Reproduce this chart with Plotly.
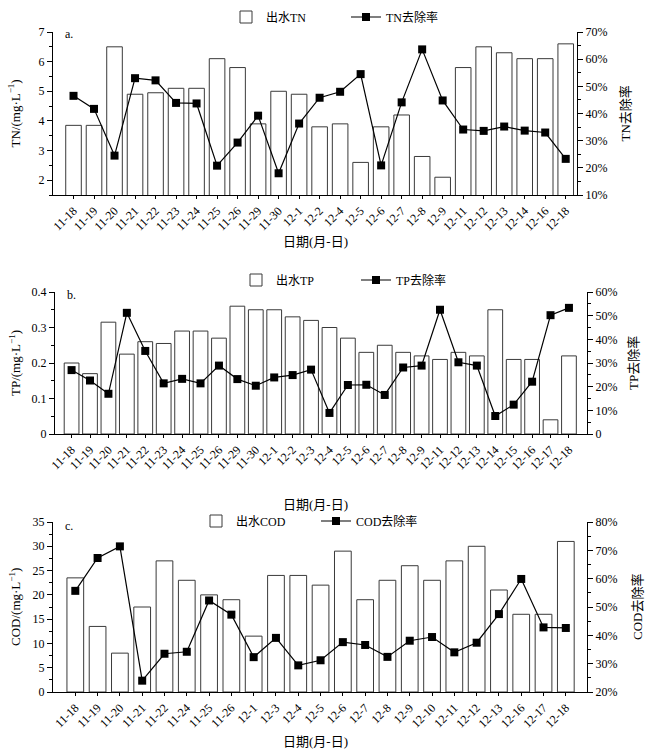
import plotly.graph_objects as go

# ---------------- data ----------------
tn_dates = ["11-18", "11-19", "11-20", "11-21", "11-22", "11-23", "11-24", "11-25", "11-26",
            "11-29", "11-30", "12-1", "12-2", "12-4", "12-5", "12-6", "12-7", "12-8", "12-9",
            "12-11", "12-12", "12-13", "12-14", "12-16", "12-18"]
tn_effluent = [3.85, 3.85, 6.5, 4.9, 4.95, 5.1, 5.1, 6.1, 5.8, 3.9, 5.0, 4.9, 3.8, 3.9, 2.6,
               3.8, 4.2, 2.8, 2.1, 5.8, 6.5, 6.3, 6.1, 6.1, 6.6]
tn_removal = [46.5, 41.7, 24.5, 53.0, 52.2, 43.9, 43.7, 20.8, 29.3, 39.2, 18.0, 36.3, 45.8,
              48.0, 54.5, 20.9, 44.1, 63.6, 44.8, 34.1, 33.6, 35.2, 33.7, 33.0, 23.3]

tp_dates = ["11-18", "11-19", "11-20", "11-21", "11-22", "11-23", "11-24", "11-25", "11-26",
            "11-29", "11-30", "12-1", "12-2", "12-3", "12-4", "12-5", "12-6", "12-7", "12-8",
            "12-9", "12-11", "12-12", "12-13", "12-14", "12-15", "12-16", "12-17", "12-18"]
tp_effluent = [0.2, 0.17, 0.315, 0.225, 0.26, 0.255, 0.29, 0.29, 0.27, 0.36, 0.35, 0.35, 0.33,
               0.32, 0.30, 0.27, 0.23, 0.25, 0.23, 0.22, 0.21, 0.23, 0.22, 0.35, 0.21, 0.21,
               0.04, 0.22]
tp_removal = [27.0, 22.6, 17.0, 51.2, 35.1, 21.4, 23.3, 21.4, 28.9, 23.2, 20.4, 23.9, 24.9,
              27.2, 8.9, 20.7, 20.8, 16.5, 28.1, 28.9, 52.5, 30.3, 28.9, 7.6, 12.4, 22.1,
              50.2, 53.3]

cod_dates = ["11-18", "11-19", "11-20", "11-21", "11-22", "11-24", "11-25", "11-26", "12-1",
             "12-3", "12-4", "12-5", "12-6", "12-7", "12-8", "12-9", "12-10", "12-11", "12-12",
             "12-13", "12-16", "12-17", "12-18"]
cod_effluent = [23.5, 13.5, 8.0, 17.5, 27.0, 23.0, 20.0, 19.0, 11.5, 24.0, 24.0, 22.0, 29.0,
                19.0, 23.0, 26.0, 23.0, 27.0, 30.0, 21.0, 16.0, 16.0, 31.0]
cod_removal = [55.7, 67.3, 71.4, 24.0, 33.5, 34.2, 52.3, 47.3, 32.3, 39.1, 29.4, 31.2, 37.6,
               36.6, 32.4, 38.1, 39.4, 34.0, 37.4, 47.5, 59.9, 42.8, 42.6]

# ---------------- styling ----------------
W, H = 658, 753
SERIF = "Liberation Serif, Noto Sans CJK SC, serif"
FONT = dict(family=SERIF, size=12, color="black")


def py(px):
    return 1 - px / H


def pxx(px):
    return px / W


fig = go.Figure()

panels = [
    dict(dates=tn_dates, eff=tn_effluent, rem=tn_removal, bar_name="出水TN", line_name="TN去除率",
         xa="x", ya="y", ya2="y2", legend="legend", width=0.76,
         xdom=[pxx(53), pxx(577)], ydom=[py(195), py(32)], xrange=[-1.0, 24.55],
         yl=dict(range=[1.5, 7], tickvals=[2, 3, 4, 5, 6, 7], ticktext=["2", "3", "4", "5", "6", "7"], minor=0.5),
         yr=dict(range=[10, 70], tickvals=[10, 20, 30, 40, 50, 60, 70],
                 ticktext=["10%", "20%", "30%", "40%", "50%", "60%", "70%"], minor=5),
         ytitle="TN/(mg·L<sup>−1</sup>)", rtitle="TN去除率", rtitle_x=625, label="a.", label_y=34,
         leg_x=226, leg_y=17, xtitle_y=242, top=32, bottom=195),
    dict(dates=tp_dates, eff=tp_effluent, rem=tp_removal, bar_name="出水TP", line_name="TP去除率",
         xa="x2", ya="y3", ya2="y4", legend="legend2", width=0.8,
         xdom=[pxx(55), pxx(587)], ydom=[py(434), py(292)], xrange=[-0.9, 27.98],
         yl=dict(range=[0, 0.4], tickvals=[0, 0.1, 0.2, 0.3, 0.4], ticktext=["0", "0.1", "0.2", "0.3", "0.4"], minor=0.05),
         yr=dict(range=[0, 60], tickvals=[0, 10, 20, 30, 40, 50, 60],
                 ticktext=["0", "10%", "20%", "30%", "40%", "50%", "60%"], minor=5),
         ytitle="TP/(mg·L<sup>−1</sup>)", rtitle="TP去除率", rtitle_x=633, label="b.", label_y=295,
         leg_x=236, leg_y=280, xtitle_y=505, top=292, bottom=434),
    dict(dates=cod_dates, eff=cod_effluent, rem=cod_removal, bar_name="出水COD", line_name="COD去除率",
         xa="x3", ya="y5", ya2="y6", legend="legend3", width=0.75,
         xdom=[pxx(53), pxx(587)], ydom=[py(692), py(522)], xrange=[-1.0, 22.95],
         yl=dict(range=[0, 35], tickvals=[0, 5, 10, 15, 20, 25, 30, 35],
                 ticktext=["0", "5", "10", "15", "20", "25", "30", "35"], minor=2.5),
         yr=dict(range=[20, 80], tickvals=[20, 30, 40, 50, 60, 70, 80],
                 ticktext=["20%", "30%", "40%", "50%", "60%", "70%", "80%"], minor=5),
         ytitle="COD/(mg·L<sup>−1</sup>)", rtitle="COD去除率", rtitle_x=637, label="c.", label_y=526,
         leg_x=196, leg_y=521, xtitle_y=741, top=522, bottom=692),
]

layout = dict(
    width=W, height=H, margin=dict(l=0, r=0, t=0, b=0),
    paper_bgcolor="white", plot_bgcolor="white", font=FONT, showlegend=True,
)
annotations = []

for i, p in enumerate(panels):
    fig.add_trace(go.Bar(
        x=p["dates"], y=p["eff"], name=p["bar_name"], xaxis=p["xa"], yaxis=p["ya"],
        marker=dict(color="white", line=dict(color="#3a3a3a", width=1)),
        width=p["width"], legend=p["legend"],
    ))
    fig.add_trace(go.Scatter(
        x=p["dates"], y=p["rem"], name=p["line_name"], xaxis=p["xa"], yaxis=p["ya2"],
        mode="lines+markers", line=dict(color="black", width=1.2),
        marker=dict(symbol="square", size=8, color="black"), legend=p["legend"],
    ))
    xkey = "xaxis" if p["xa"] == "x" else "xaxis" + p["xa"][1:]
    ykey = "yaxis" if p["ya"] == "y" else "yaxis" + p["ya"][1:]
    y2key = "yaxis" + p["ya2"][1:]
    layout[xkey] = dict(
        domain=p["xdom"], anchor=p["ya"], type="category", range=p["xrange"],
        showline=True, linecolor="black", linewidth=1, ticks="outside", ticklen=3,
        tickcolor="black", tickangle=-45, tickfont=dict(family=SERIF, size=12),
        showgrid=False, zeroline=False, automargin=False,
    )
    layout[ykey] = dict(
        domain=p["ydom"], anchor=p["xa"], range=p["yl"]["range"],
        tickvals=p["yl"]["tickvals"], ticktext=p["yl"]["ticktext"],
        showline=True, linecolor="black", linewidth=1, ticks="outside", ticklen=5,
        tickcolor="black", showgrid=False, zeroline=False, automargin=False,
        minor=dict(dtick=p["yl"]["minor"], ticks="outside", ticklen=3, tickcolor="black", showgrid=False),
        tickfont=dict(family=SERIF, size=12),
    )
    layout[y2key] = dict(
        overlaying=p["ya"], side="right", anchor=p["xa"], range=p["yr"]["range"],
        tickvals=p["yr"]["tickvals"], ticktext=p["yr"]["ticktext"],
        showline=True, linecolor="black", linewidth=1, ticks="outside", ticklen=5,
        tickcolor="black", showgrid=False, zeroline=False, automargin=False,
        minor=dict(dtick=p["yr"]["minor"], ticks="outside", ticklen=3, tickcolor="black", showgrid=False),
        tickfont=dict(family=SERIF, size=12),
    )
    layout[p["legend"]] = dict(
        orientation="h", x=pxx(p["leg_x"]), y=py(p["leg_y"]), xanchor="left", yanchor="middle",
        font=dict(family=SERIF, size=12), bgcolor="rgba(0,0,0,0)", entrywidth=75,
    )
    mid = (p["top"] + p["bottom"]) / 2
    common = dict(xref="paper", yref="paper", showarrow=False, xanchor="center", yanchor="middle")
    annotations += [
        dict(text="日期(月-日)", x=pxx(315), y=py(p["xtitle_y"]), font=dict(family=SERIF, size=13), **common),
        dict(text=p["ytitle"], x=pxx(15), y=py(mid), textangle=-90, font=dict(family=SERIF, size=13), **common),
        dict(text=p["rtitle"], x=pxx(p["rtitle_x"]), y=py(mid), textangle=-90,
             font=dict(family=SERIF, size=13), **common),
        dict(text=p["label"], x=pxx(p["xdom"][0] * W + 16), y=py(p["label_y"]),
             font=dict(family=SERIF, size=12), **common),
    ]

layout["annotations"] = annotations
fig.update_layout(**layout)
fig.write_html("out.html", config={"displayModeBar": False},
               post_script="document.body.style.margin='0';document.body.style.padding='0';")
